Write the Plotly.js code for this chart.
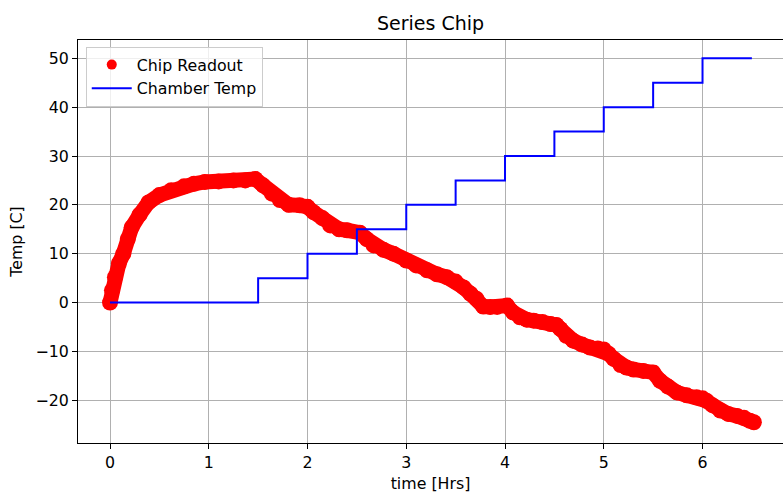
<!DOCTYPE html>
<html>
<head>
<meta charset="utf-8">
<script src="https://cdn.plot.ly/plotly-3.0.1.min.js"></script>
<style>html,body{margin:0;padding:0;background:#fff;}#chart{width:783px;height:496px;}</style>
</head>
<body>
<div id="chart"></div>
<script>
const chipTime = [0, 0.02, 0.05, 0.09, 0.135, 0.18, 0.22, 0.3, 0.39, 0.5, 0.62, 0.75, 0.85, 0.96, 1.1, 1.25, 1.37, 1.47, 1.55, 1.64, 1.72, 1.81, 1.92, 2.0, 2.06, 2.15, 2.23, 2.32, 2.4, 2.53, 2.6, 2.67, 2.77, 2.87, 3.0, 3.1, 3.21, 3.31, 3.41, 3.5, 3.58, 3.65, 3.71, 3.78, 3.85, 3.92, 4.02, 4.08, 4.15, 4.22, 4.29, 4.38, 4.46, 4.52, 4.56, 4.62, 4.69, 4.78, 4.86, 4.94, 5.0, 5.05, 5.1, 5.17, 5.23, 5.3, 5.4, 5.5, 5.57, 5.65, 5.74, 5.84, 5.94, 6.0, 6.04, 6.1, 6.18, 6.26, 6.35, 6.42, 6.48, 6.52];
const chipTemp = [0, 2.5, 5.2, 8, 10, 13, 15.4, 18, 20.5, 22, 23, 23.8, 24.3, 24.7, 24.8, 25, 25, 25.3, 24, 22.3, 21, 20, 19.9, 19.6, 18.5, 17.3, 15.8, 15, 14.8, 14.3, 13, 11.7, 10.8, 10, 8.6, 7.6, 6.6, 5.8, 5.2, 4.3, 3.1, 1.8, 0.8, -0.8, -0.9, -0.9, -0.6, -2, -3, -3.5, -3.7, -4, -4.4, -4.6, -5.4, -6.8, -7.8, -8.6, -9.2, -9.4, -9.6, -10.5, -11.5, -12.8, -13.3, -13.7, -14, -14.3, -16, -17.2, -18.4, -19, -19.4, -19.6, -20.1, -21, -22.1, -22.8, -23.2, -23.6, -24.2, -24.5];
const chamberTime = [0, 1.5, 2, 2.5, 3, 3.5, 4, 4.5, 5, 5.5, 6, 6.5];
const chamberTemp = [0, 5, 10, 15, 20, 25, 30, 35, 40, 45, 50, 50];
const xTicks = [0, 1, 2, 3, 4, 5, 6];
const yTicks = [-20, -10, 0, 10, 20, 30, 40, 50];

const font = 'DejaVu Sans, sans-serif';
const traces = [
  {x: chipTime, y: chipTemp, type: 'scatter', mode: 'markers', name: 'Chip Readout',
   marker: {color: '#ff0000', size: 10}},
  {x: chipTime, y: chipTemp, type: 'scatter', mode: 'lines+markers', showlegend: false, hoverinfo: 'skip',
   line: {color: '#ff0000', width: 15}, marker: {color: '#ff0000', size: 16}},
  {x: chamberTime, y: chamberTemp, type: 'scatter', mode: 'lines', name: 'Chamber Temp',
   line: {color: '#0000ff', width: 2, shape: 'hv'}}
];
const axisCommon = {
  showgrid: true, gridcolor: '#b0b0b0', gridwidth: 1, zeroline: false,
  showline: true, linecolor: '#000', linewidth: 1,
  ticks: 'outside', ticklen: 5, tickcolor: '#000', tickwidth: 1,
  tickfont: {family: font, size: 15.8, color: '#000'}
};
const layout = {
  width: 783, height: 496,
  margin: {l: 78, r: 0, t: 40, b: 53},
  paper_bgcolor: '#fff', plot_bgcolor: '#fff',
  title: {text: 'Series Chip', font: {family: font, size: 19, color: '#000'}, x: 0.5, xref: 'paper', y: 0.952, yanchor: 'middle'},
  xaxis: Object.assign({}, axisCommon, {range: [-0.324, 6.815], tickvals: xTicks, mirror: true,
    title: {text: 'time [Hrs]', font: {family: font, size: 15.8, color: '#000'}, standoff: 6}}),
  yaxis: Object.assign({}, axisCommon, {range: [-28.75, 53.75], tickvals: yTicks, mirror: false,
    title: {text: 'Temp [C]', font: {family: font, size: 15.8, color: '#000'}, standoff: 8}}),
  legend: {x: 0.011, y: 0.983, xanchor: 'left', yanchor: 'top', bgcolor: 'rgba(255,255,255,0.8)',
    bordercolor: '#cccccc', borderwidth: 1, itemwidth: 40, font: {family: font, size: 15.8, color: '#000'}},
  showlegend: true
};
Plotly.newPlot('chart', traces, layout, {displayModeBar: false, staticPlot: true});
</script>
</body>
</html>
